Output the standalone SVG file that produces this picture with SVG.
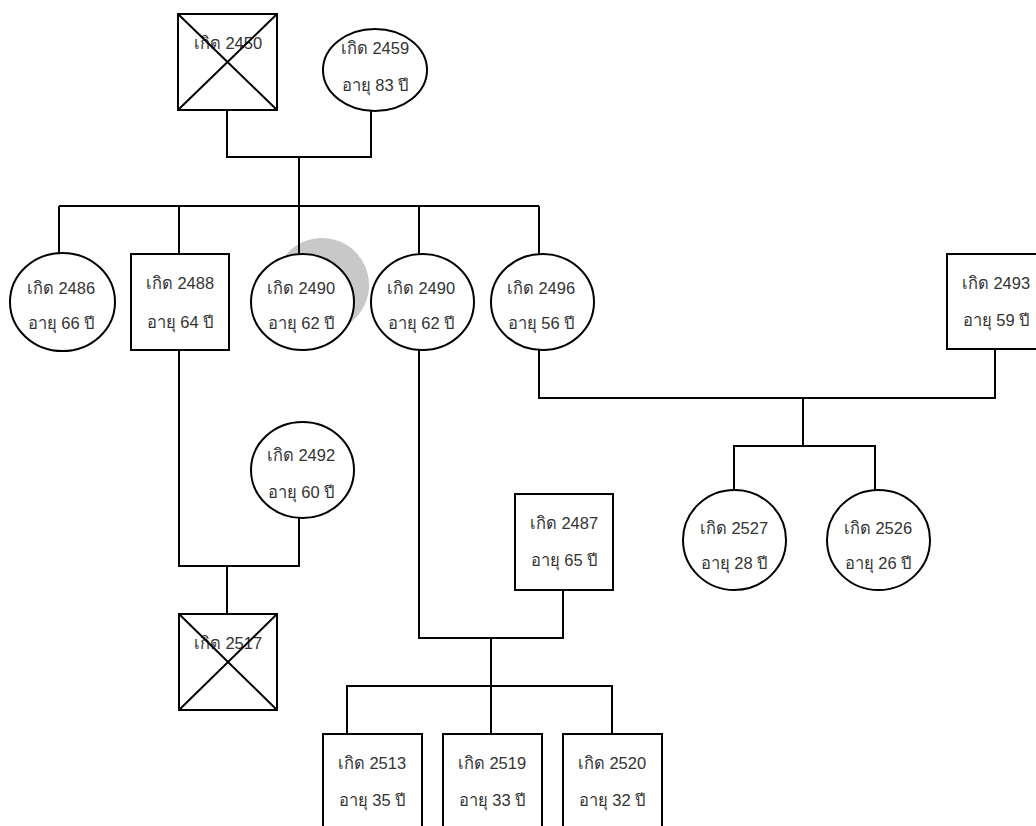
<svg xmlns="http://www.w3.org/2000/svg" width="1036" height="826" viewBox="0 0 1036 826">
<style>
.n{fill:#fff;stroke:#000;stroke-width:2}
.x{stroke:#000;stroke-width:2;fill:none}
.c{fill:none;stroke:#000;stroke-width:2}
text{font-family:"Liberation Sans","DejaVu Sans","Noto Sans",sans-serif;font-size:16.5px;fill:#333;text-anchor:middle}
</style>
<rect width="1036" height="826" fill="#fff"/>
<circle cx="322" cy="285" r="47" fill="#c8c8c8"/>
<g id="connectors" class="c">
<polyline points="227,110 227,157 371,157 371,110"/>
<line x1="299" y1="157" x2="299" y2="206"/>
<line x1="59" y1="206" x2="539" y2="206"/>
<line x1="59" y1="206" x2="59" y2="253"/>
<line x1="179" y1="206" x2="179" y2="254"/>
<line x1="299" y1="206" x2="299" y2="254"/>
<line x1="419" y1="206" x2="419" y2="254"/>
<line x1="539" y1="206" x2="539" y2="254"/>
<polyline points="179,350 179,566 299,566 299,518"/>
<line x1="227" y1="566" x2="227" y2="614"/>
<polyline points="539,350 539,398 995,398 995,349"/>
<line x1="803" y1="398" x2="803" y2="446"/>
<polyline points="734,490 734,446 875,446 875,490"/>
<polyline points="419,350 419,638 563,638 563,590"/>
<line x1="491" y1="638" x2="491" y2="734"/>
<polyline points="347,734 347,686 612,686 612,734"/>
</g>
<g id="n2450"><rect class="n" x="178" y="14" width="99" height="96"/><text x="228" y="49">เกิด 2450</text><path class="x" d="M178,14 L277,110 M277,14 L178,110"/></g>
<g id="n2459"><ellipse class="n" cx="375" cy="70" rx="52" ry="41"/><text x="375" y="54">เกิด 2459</text><text x="375" y="91">อายุ 83 ปี</text></g>
<g id="n2486"><ellipse class="n" cx="62.5" cy="302" rx="52.5" ry="49"/><text x="61" y="294">เกิด 2486</text><text x="61" y="329">อายุ 66 ปี</text></g>
<g id="n2488"><rect class="n" x="131" y="254" width="98" height="96"/><text x="180" y="289">เกิด 2488</text><text x="180" y="328">อายุ 64 ปี</text></g>
<g id="n2490a"><ellipse class="n" cx="302.5" cy="302" rx="51.5" ry="48"/><text x="301" y="294">เกิด 2490</text><text x="301" y="329">อายุ 62 ปี</text></g>
<g id="n2490b"><ellipse class="n" cx="422.5" cy="302" rx="51.5" ry="48"/><text x="421" y="294">เกิด 2490</text><text x="421" y="329">อายุ 62 ปี</text></g>
<g id="n2496"><ellipse class="n" cx="542.5" cy="302" rx="51.5" ry="48"/><text x="541" y="294">เกิด 2496</text><text x="541" y="329">อายุ 56 ปี</text></g>
<g id="n2493"><rect class="n" x="947" y="254" width="98" height="95"/><text x="996" y="289">เกิด 2493</text><text x="996" y="326">อายุ 59 ปี</text></g>
<g id="n2492"><ellipse class="n" cx="302.5" cy="470" rx="51.5" ry="48"/><text x="301" y="461">เกิด 2492</text><text x="301" y="498">อายุ 60 ปี</text></g>
<g id="n2517"><rect class="n" x="179" y="614" width="98" height="96"/><text x="228" y="649">เกิด 2517</text><path class="x" d="M179,614 L277,710 M277,614 L179,710"/></g>
<g id="n2487"><rect class="n" x="515" y="494" width="98" height="96"/><text x="564" y="529">เกิด 2487</text><text x="564" y="566">อายุ 65 ปี</text></g>
<g id="n2527"><ellipse class="n" cx="734.5" cy="540" rx="51.5" ry="50"/><text x="734" y="534">เกิด 2527</text><text x="734" y="569">อายุ 28 ปี</text></g>
<g id="n2526"><ellipse class="n" cx="878.5" cy="540" rx="51.5" ry="50"/><text x="878" y="534">เกิด 2526</text><text x="878" y="569">อายุ 26 ปี</text></g>
<g id="n2513"><rect class="n" x="323" y="734" width="99" height="98"/><text x="372" y="769">เกิด 2513</text><text x="372" y="806">อายุ 35 ปี</text></g>
<g id="n2519"><rect class="n" x="443" y="734" width="99" height="98"/><text x="492" y="769">เกิด 2519</text><text x="492" y="806">อายุ 33 ปี</text></g>
<g id="n2520"><rect class="n" x="563" y="734" width="99" height="98"/><text x="612" y="769">เกิด 2520</text><text x="612" y="806">อายุ 32 ปี</text></g>
</svg>
